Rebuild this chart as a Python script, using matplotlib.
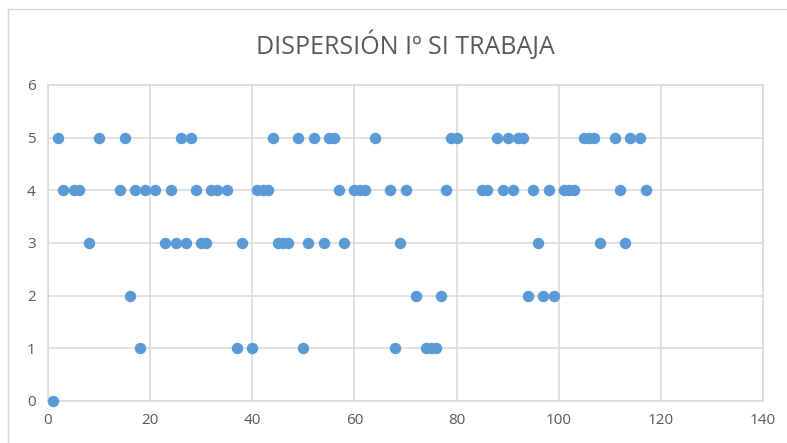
"""
Dispersión de respuestas - Iº si trabaja
"""
import matplotlib.pyplot as plt
from matplotlib.lines import Line2D

# valores (nº de encuestado, respuesta)
resp_0 = [1]
resp_1 = [18, 37, 40, 50, 68, 74, 75, 76]
resp_2 = [16, 72, 77, 94, 97, 99]
resp_3 = [8, 23, 25, 27, 30, 31, 38, 45, 46, 47, 51, 54, 58, 69, 96, 108, 113]
resp_4 = [3, 5, 6, 14, 17, 19, 21, 24, 29, 32, 33, 35, 41, 42, 43, 57, 60, 61,
          62, 67, 70, 78, 85, 86, 89, 91, 95, 98, 101, 102, 103, 112, 117]
resp_5 = [2, 10, 15, 26, 28, 44, 49, 52, 55, 56, 64, 79, 80, 88, 90, 92, 93,
          105, 106, 107, 111, 114, 116]

x_ticks = [0, 20, 40, 60, 80, 100, 120, 140]
y_ticks = [0, 1, 2, 3, 4, 5, 6]

titulo = "DISPERSIÓN Iº SI TRABAJA"

plt.rcParams['font.family'] = ['Open Sans', 'DejaVu Sans']

fig = plt.figure(figsize=(7.87, 4.43), dpi=100)
ax = fig.add_axes([48 / 787, 1 - 401 / 443, 715 / 787, 316 / 443])

grupos = [resp_0, resp_1, resp_2, resp_3, resp_4, resp_5]
xs, ys = [], []
for valor, grupo in enumerate(grupos):
    xs += grupo
    ys += [valor] * len(grupo)

ax.scatter(xs, ys, s=68, color="#5B9BD5", zorder=3, clip_on=False, linewidths=0)

ax.set_xlim(0, 140)
ax.set_ylim(0, 6)
ax.set_xticks(x_ticks)
ax.set_yticks(y_ticks)
ax.grid(True, color="#D9D9D9", linewidth=1.1)
ax.set_axisbelow(True)
for sp in ax.spines.values():
    sp.set_color("#D9D9D9")
    sp.set_linewidth(1.1)
ax.tick_params(length=0, labelsize=11, labelcolor="#595959", pad=9)

fig.text(405 / 787, 1 - 45 / 443, titulo, ha="center", va="center",
         fontsize=18, color="#595959")

# borde del área del gráfico
fig.add_artist(Line2D([8 / 787, 8 / 787], [0, 1 - 9 / 443], transform=fig.transFigure,
                      color="#D9D9D9", linewidth=1))
fig.add_artist(Line2D([8 / 787, 1], [1 - 9 / 443, 1 - 9 / 443], transform=fig.transFigure,
                      color="#D9D9D9", linewidth=1))

fig.savefig("out.png", dpi=100)
